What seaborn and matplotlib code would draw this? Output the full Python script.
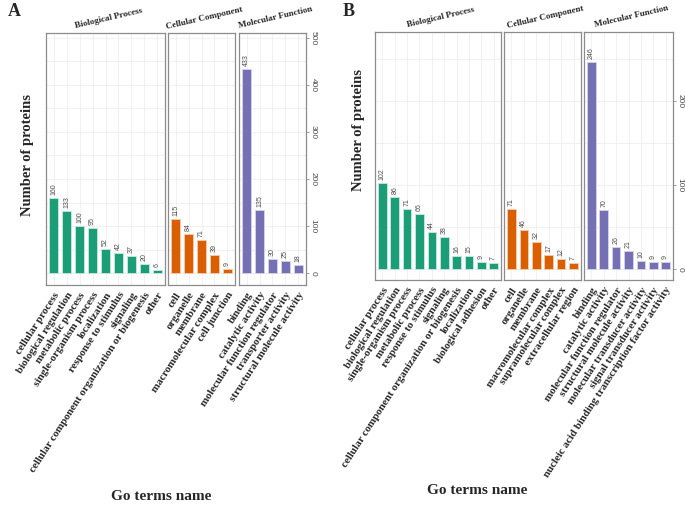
#Importing libraries for visualization
import numpy as np
import pandas as pd
import seaborn as sns
import matplotlib.pyplot as plt
from matplotlib.ticker import MultipleLocator

sns.set_style("white")
plt.rcParams["font.family"] = ["Liberation Sans", "DejaVu Sans"]

# Panel A data
a_bp_terms = ["cellular process", "biological regulation", "metabolic process",
              "single-organism process", "localization", "response to stimulus",
              "signaling", "cellular component organization or biogenesis", "other"]
a_bp_counts = [160, 133, 100, 95, 52, 42, 37, 20, 6]
a_cc_terms = ["cell", "organelle", "membrane", "macromolecular complex", "cell junction"]
a_cc_counts = [115, 84, 71, 39, 9]
a_mf_terms = ["binding", "catalytic activity", "molecular function regulator",
              "transporter activity", "structural molecule activity"]
a_mf_counts = [433, 135, 30, 25, 18]

# Panel B data
b_bp_terms = ["cellular process", "biological regulation", "single-organism process",
              "metabolic process", "response to stimulus", "signaling",
              "cellular component organization or biogenesis", "localization",
              "biological adhesion", "other"]
b_bp_counts = [102, 86, 71, 66, 44, 38, 16, 15, 9, 7]
b_cc_terms = ["cell", "organelle", "membrane", "macromolecular complex",
              "supramolecular complex", "extracellular region"]
b_cc_counts = [71, 46, 32, 17, 12, 7]
b_mf_terms = ["binding", "catalytic activity", "molecular function regulator",
              "structural molecule activity", "molecular transducer activity",
              "signal transducer activity", "nucleic acid binding transcription factor activity"]
b_mf_counts = [246, 70, 26, 21, 10, 9, 9]

facet_names = ["Biological Process", "Cellular Component", "Molecular Function"]
colors = ["#1B9E77", "#D95F02", "#7570B3"]
edge_colors = ["#c8e8de", "#f5cdb0", "#d6d4ea"]

W, H = 685, 512
fig = plt.figure(figsize=(W / 100, H / 100), dpi=100)


def rect(x0, x1, top, bot):
    return [x0 / W, 1 - bot / H, (x1 - x0) / W, (bot - top) / H]


serif_bold = dict(family="Liberation Serif", weight="bold")


def draw_panel(facets, xs, top, bot, ylim, ystep, minor):
    for k, (terms, counts) in enumerate(facets):
        ax = fig.add_axes(rect(xs[k][0], xs[k][1], top, bot))
        df = pd.DataFrame({"term": terms, "count": counts})
        sns.barplot(data=df, x="term", y="count", color=colors[k], saturation=1,
                    width=0.7, edgecolor=edge_colors[k], linewidth=0.6, ax=ax)
        ax.set_ylim(*ylim)
        ax.set_xlim(-0.6, len(terms) - 0.4)
        ax.yaxis.set_major_locator(MultipleLocator(ystep))
        ax.yaxis.set_minor_locator(MultipleLocator(minor))
        ax.set_axisbelow(True)
        ax.grid(True, which="both", axis="y", color="#ebebeb", lw=0.5)
        ax.grid(True, which="major", axis="x", color="#ebebeb", lw=0.5)
        for s in ax.spines.values():
            s.set_color("#8c8c8c")
            s.set_linewidth(0.9)
        ax.set_xlabel("")
        ax.set_ylabel("")
        ax.tick_params(axis="x", length=3, color="#8c8c8c", width=0.6, pad=1)
        ax.set_xticks(range(len(terms)))
        ax.set_xticklabels(terms, rotation=57, ha="right", rotation_mode="anchor",
                           fontsize=7.8, **serif_bold)
        ax.tick_params(axis="y", which="minor", length=0)
        if k == 2:
            ax.yaxis.tick_right()
            ax.tick_params(axis="y", which="major", length=2, color="#8c8c8c",
                           width=0.6, labelsize=6, labelcolor="#4d4d4d", pad=0.5)
            for lab in ax.get_yticklabels():
                lab.set_rotation(-90)
                lab.set_va("center")
        else:
            ax.tick_params(axis="y", which="both", left=False, right=False,
                           labelleft=False)
        # value labels on top of bars
        off = 0.012 * (ylim[1] - ylim[0])
        for i, v in enumerate(counts):
            ax.text(i, v + off, str(v), rotation=90, ha="center", va="bottom",
                    fontsize=5, color="#4d4d4d")
        cx = (xs[k][0] + xs[k][1]) / 2 + 3
        fig.text(cx / W, 1 - (top - 15) / H, facet_names[k], rotation=13,
                 ha="center", va="center", fontsize=6.5, **serif_bold)


draw_panel([(a_bp_terms, a_bp_counts), (a_cc_terms, a_cc_counts), (a_mf_terms, a_mf_counts)],
           [(46, 165), (168, 235), (239, 306)], 33, 285, (-25, 510), 100, 50)
draw_panel([(b_bp_terms, b_bp_counts), (b_cc_terms, b_cc_counts), (b_mf_terms, b_mf_counts)],
           [(375, 501), (504, 581), (584, 673)], 32, 280, (-13, 282), 100, 50)

# axis titles and panel letters
fig.text(27 / W, 1 - 155 / H, "Number of proteins", rotation=90, ha="center",
         va="center", fontsize=10.5, **serif_bold)
fig.text(358 / W, 1 - 130 / H, "Number of proteins", rotation=90, ha="center",
         va="center", fontsize=10.5, **serif_bold)
fig.text(161 / W, 1 - 497 / H, "Go terms name", ha="center", va="center",
         fontsize=11, **serif_bold)
fig.text(477 / W, 1 - 490 / H, "Go terms name", ha="center", va="center",
         fontsize=11, **serif_bold)
fig.text(14 / W, 1 - 12 / H, "A", ha="center", va="center", fontsize=13, **serif_bold)
fig.text(349 / W, 1 - 12 / H, "B", ha="center", va="center", fontsize=13, **serif_bold)

plt.savefig("out.png", dpi=100)
